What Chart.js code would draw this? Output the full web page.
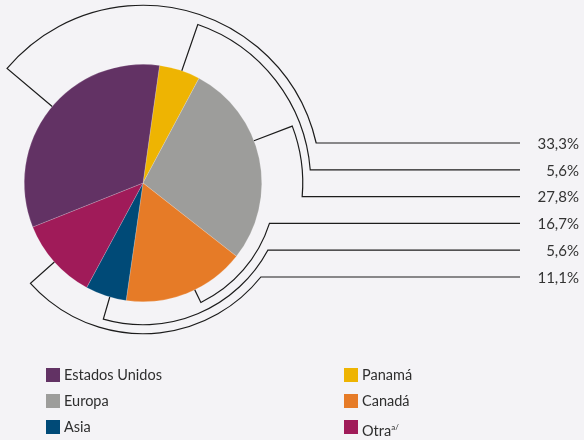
<!DOCTYPE html>
<html>
<head>
<meta charset="utf-8">
<script src="https://cdn.jsdelivr.net/npm/chart.js@4"></script>
<style>
  html, body { margin: 0; padding: 0; background: #f4f3f6; }
  #wrap { position: relative; width: 584px; height: 440px; font-family: Lato, "Open Sans", sans-serif; color: #2e2e2e; }
  #chart { position: absolute; left: 0; top: 0; }
  .item { position: absolute; height: 16px; font-size: 14.5px; line-height: 16px; white-space: nowrap; }
  .item span.sw { position: absolute; left: 0; top: 1px; width: 14px; height: 14px; }
  .item span.tx { position: absolute; left: 18px; top: 0; }
  .item sup { font-size: 8px; vertical-align: 6px; }
</style>
</head>
<body>
<div id="wrap">
  <canvas id="chart" width="584" height="440"></canvas>
  <div id="legend"></div>
</div>
<script>
// slices, clockwise from the top
const categories = ['Panamá', 'Europa', 'Canadá', 'Asia', 'Otra', 'Estados Unidos'];
const shares = [5.6, 27.8, 16.7, 5.6, 11.1, 33.3];
const shareLabels = ['5,6%', '27,8%', '16,7%', '5,6%', '11,1%', '33,3%'];
const colors = ['#eeb402', '#9d9d9b', '#e67b27', '#004a77', '#a01b59', '#623264'];

// order of the labels down the right side and of the legend
const labelOrder = ['Estados Unidos', 'Panamá', 'Europa', 'Canadá', 'Asia', 'Otra'];
const legendCols = [['Estados Unidos', 'Europa', 'Asia'], ['Panamá', 'Canadá', 'Otra']];

// bracket ring: distance outside the pie (px) and tick shift from mid angle (deg)
const ringGap = { 'Estados Unidos': 59, 'Panamá': 49, 'Europa': 41, 'Canadá': 14, 'Asia': 23, 'Otra': 32 };
const tickShift = { 'Estados Unidos': 2, 'Panamá': 1, 'Europa': -9, 'Canadá': -4, 'Asia': -2, 'Otra': 0 };

const callouts = {
  id: 'callouts',
  afterDraw(chart) {
    const ctx = chart.ctx;
    const arcs = chart.getDatasetMeta(0).data;
    ctx.save();
    ctx.strokeStyle = '#1c1c1c';
    ctx.lineWidth = 1.2;
    ctx.fillStyle = '#333';
    ctx.font = '15px Lato, "Open Sans", sans-serif';
    ctx.textAlign = 'right';
    ctx.textBaseline = 'middle';
    labelOrder.forEach((name, row) => {
      const i = categories.indexOf(name);
      const a = arcs[i];
      const cx = a.x, cy = a.y, R = a.outerRadius;
      const r = R + ringGap[name];
      const tick = (a.startAngle + a.endAngle) / 2 + tickShift[name] * Math.PI / 180;
      const lineY = 143 + row * 26.8;
      const inter = Math.asin((lineY - cy) / r);
      const tau = Math.PI * 2;
      const cw = ((inter - tick) % tau + tau) % tau;
      const ix = cx + Math.cos(inter) * r;
      ctx.beginPath();
      if (cw < Math.PI) {
        ctx.moveTo(cx + Math.cos(tick) * R, cy + Math.sin(tick) * R);
        ctx.lineTo(cx + Math.cos(tick) * r, cy + Math.sin(tick) * r);
        ctx.arc(cx, cy, r, tick, inter, false);
        ctx.lineTo(520, lineY);
      } else {
        ctx.moveTo(520, lineY);
        ctx.lineTo(ix, lineY);
        ctx.arc(cx, cy, r, inter, tick, false);
        ctx.lineTo(cx + Math.cos(tick) * R, cy + Math.sin(tick) * R);
      }
      ctx.stroke();
      ctx.fillText(shareLabels[i], 579, lineY + 1);
    });
    ctx.restore();
  }
};

new Chart(document.getElementById('chart'), {
  type: 'pie',
  data: {
    labels: categories,
    datasets: [{
      data: shares,
      backgroundColor: colors,
      borderColor: 'rgba(255,255,255,0.35)',
      borderWidth: 0.5
    }]
  },
  options: {
    responsive: false,
    animation: false,
    rotation: 8,
    layout: { padding: { left: 24, top: 64, right: 322, bottom: 138 } },
    plugins: { legend: { display: false }, tooltip: { enabled: false } }
  },
  plugins: [callouts]
});

// legend
const legend = document.getElementById('legend');
legendCols.forEach((col, c) => {
  col.forEach((name, r) => {
    const i = categories.indexOf(name);
    const el = document.createElement('div');
    el.className = 'item';
    el.style.left = (c === 0 ? 46 : 344) + 'px';
    el.style.top = (367 + r * 26) + 'px';
    const sw = document.createElement('span');
    sw.className = 'sw';
    sw.style.background = colors[i];
    const tx = document.createElement('span');
    tx.className = 'tx';
    tx.textContent = name;
    if (name === 'Otra') {
      const sup = document.createElement('sup');
      sup.textContent = 'a/';
      tx.appendChild(sup);
    }
    el.appendChild(sw);
    el.appendChild(tx);
    legend.appendChild(el);
  });
});
</script>
</body>
</html>
